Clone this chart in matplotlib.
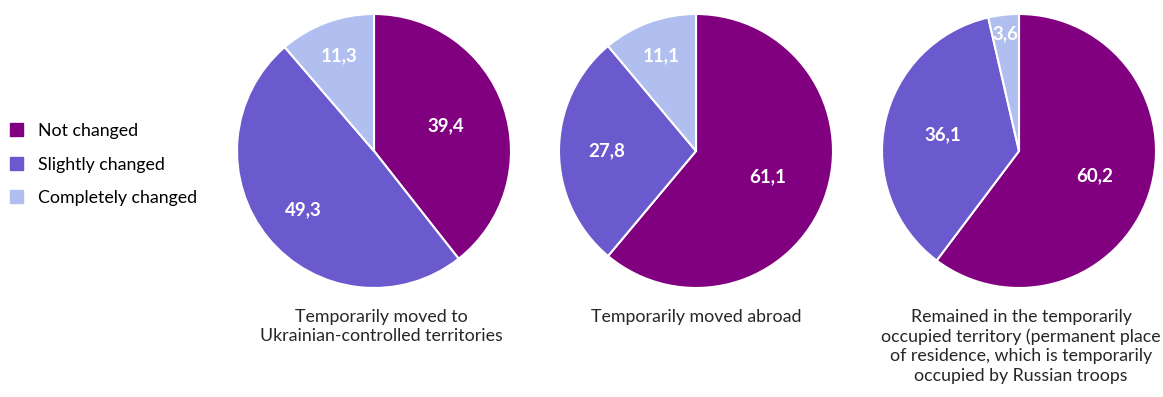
import numpy as np
import matplotlib.pyplot as plt
from matplotlib.patches import Patch

# Data
categories = ['Not changed', 'Slightly changed', 'Completely changed']
groups = [
    'Temporarily moved to\nUkrainian-controlled territories',
    'Temporarily moved abroad',
    'Remained in the temporarily\noccupied territory (permanent place\nof residence, which is temporarily\noccupied by Russian troops',
]
values_moved_ukraine = [39.4, 49.3, 11.3]
values_moved_abroad = [61.1, 27.8, 11.1]
values_occupied = [60.2, 36.1, 3.6]

colors = ['#800080', '#6A5ACD', '#B0BEF0']
# label distance from centre (fraction of radius), per slice
label_dist = [[0.555, 0.67, 0.74], [0.56, 0.65, 0.74], [0.58, 0.57, 0.86]]
centers_x = [374, 696, 1019]
caption_x = [381, 696, 1021]

plt.rcParams['font.family'] = ['Lato', 'DejaVu Sans']

W, H = 1163, 397
fig = plt.figure(figsize=(W / 100, H / 100), dpi=100)
r = 137
cy = 151

all_values = [values_moved_ukraine, values_moved_abroad, values_occupied]
for i, vals in enumerate(all_values):
    ax = fig.add_axes([(centers_x[i] - r) / W, (H - cy - r) / H, 2 * r / W, 2 * r / H])
    wedges, _ = ax.pie(vals, colors=colors, startangle=90, counterclock=False,
                       wedgeprops=dict(edgecolor='white', linewidth=1.5))
    ax.set_xlim(-1, 1)
    ax.set_ylim(-1, 1)
    ax.set_aspect('equal')
    for w, v, d in zip(wedges, vals, label_dist[i]):
        ang = np.deg2rad((w.theta1 + w.theta2) / 2)
        ax.text(d * np.cos(ang), d * np.sin(ang), f'{v:.1f}'.replace('.', ','),
                ha='center', va='center', color='white', fontsize=13.5, fontweight='bold')
    fig.text(caption_x[i] / W, 1 - 309 / H, groups[i], ha='center', va='top',
             fontsize=12.8, color='#262626', linespacing=1.26)

# legend
handles = [Patch(color=c) for c in colors]
fig.legend(handles, categories, loc='upper left', bbox_to_anchor=(3 / W, 1 - 116 / H),
           frameon=False, fontsize=12.8, handlelength=0.75, handleheight=0.75,
           labelspacing=0.98, handletextpad=0.82, borderaxespad=0)

fig.savefig('out.png', dpi=100)
